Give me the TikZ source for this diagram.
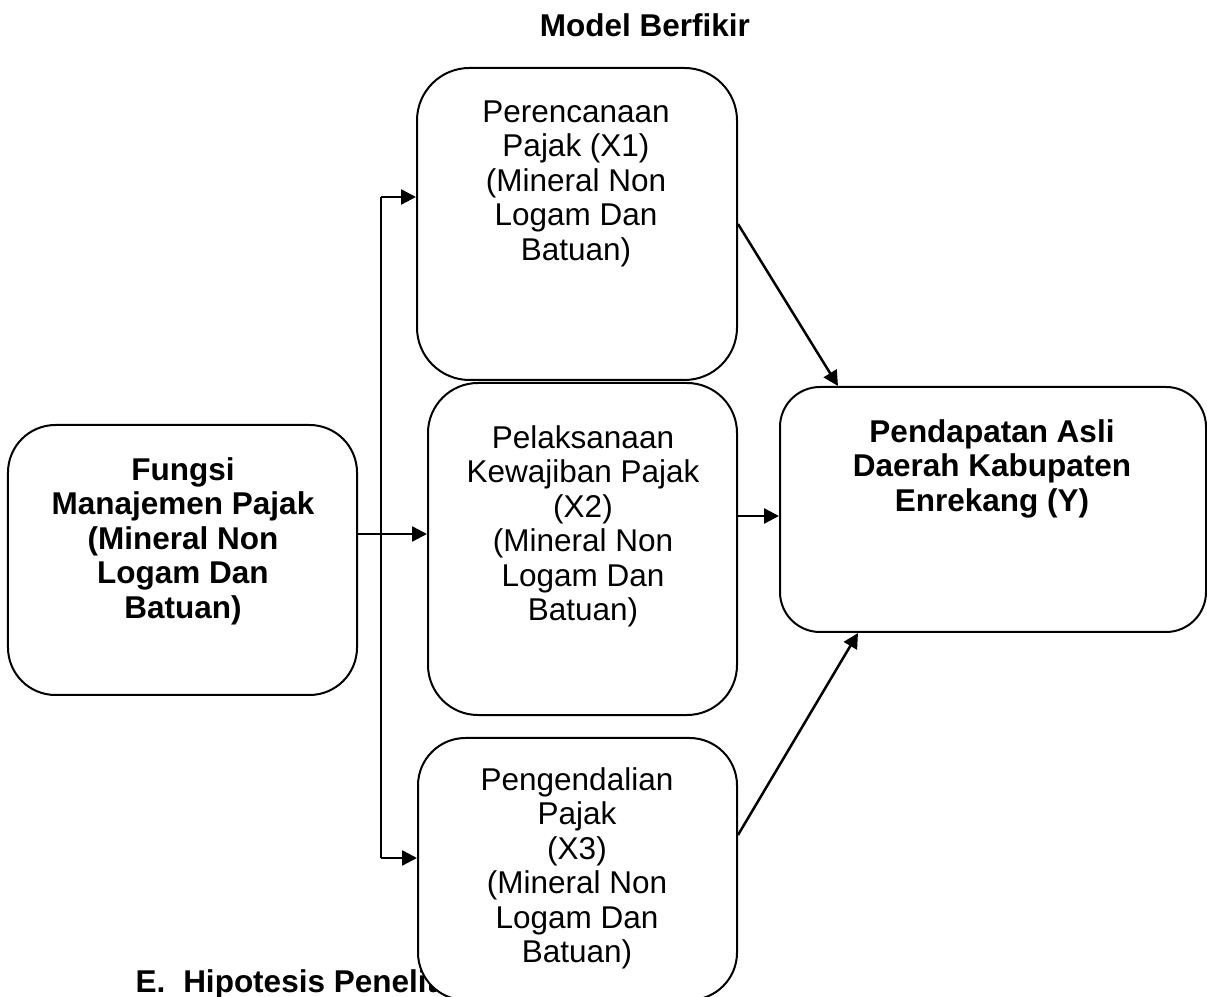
\documentclass[tikz,border=0pt]{standalone}
\usepackage{fontspec}
\setmainfont{Liberation Sans}
\usetikzlibrary{positioning,arrows.meta,calc}

\begin{document}
\begin{tikzpicture}[x=0.4pt,y=-0.4pt,
    box/.style={draw,line width=0.8pt,rounded corners=19pt,fill=white,inner sep=0pt},
    teks/.style={align=center,anchor=north,inner sep=0pt,font=\fontsize{12.6}{13.8}\selectfont},
    tebal/.style={teks,font=\bfseries\fontsize{12.6}{13.8}\selectfont},
    arr/.style={line width=1pt,-{Triangle[length=6pt,width=6pt]}}]
  \useasboundingbox (0,0) rectangle (1207,997);

  % judul dan subbab
  \node[tebal,anchor=center] (judul) at (645,25) {Model Berfikir};
  \node[tebal,anchor=base west] (hipotesis) at (135,992) {E.\hspace{7.2pt}Hipotesis Penelitian};

  % kotak
  \node[box,minimum width=139.6pt,minimum height=108pt] (fungsi) at (182.5,560) {};
  \node[box,rounded corners=21pt,minimum width=128pt,minimum height=124.8pt] (x1) at (577,224) {};
  \node[box,rounded corners=20pt,minimum width=123.6pt,minimum height=132.8pt] (x2) at (582.5,549) {};
  \node[box,minimum width=127.6pt,minimum height=104.8pt] (x3) at (577.5,869) {};
  \node[box,rounded corners=16pt,minimum width=170.4pt,minimum height=98pt] (y) at (993,509.5) {};

  % isi kotak
  \node[tebal,anchor=center] (teksfungsi) at (183,541) {Fungsi\\Manajemen Pajak\\(Mineral Non\\Logam Dan\\Batuan)};
  \node[teks] (teksx1) at (576,100) {Perencanaan\\Pajak (X1)\\(Mineral Non\\Logam Dan\\Batuan)};
  \node[teks] (teksx2) at (583,425) {Pelaksanaan\\Kewajiban Pajak\\(X2)\\(Mineral Non\\Logam Dan\\Batuan)};
  \node[teks] (teksx3) at (577,767) {Pengendalian\\Pajak\\(X3)\\(Mineral Non\\Logam Dan\\Batuan)};
  \node[tebal] (teksy) at (992,419) {Pendapatan Asli\\Daerah Kabupaten\\Enrekang (Y)};

  % panah
  \coordinate (atas) at (381,197);
  \coordinate (bawah) at (381,858);
  \draw[line width=1pt] (atas) -- (bawah);
  \draw[arr] (atas) -- (atas -| x1.west);
  \draw[arr] (bawah) -- (bawah -| x3.west);
  \draw[arr] ([yshift=10.4pt]fungsi.east) -- ([yshift=10.4pt]fungsi.east -| x2.west);
  \draw[arr] ([yshift=13.2pt]x2.east) -- ([yshift=13.2pt]x2.east -| y.west);
  \draw[arr] (x1.east) -- ([xshift=-62pt]y.north);
  \draw[arr] ([yshift=13.6pt]x3.east) -- ([xshift=-54pt]y.south);
\end{tikzpicture}
\end{document}
